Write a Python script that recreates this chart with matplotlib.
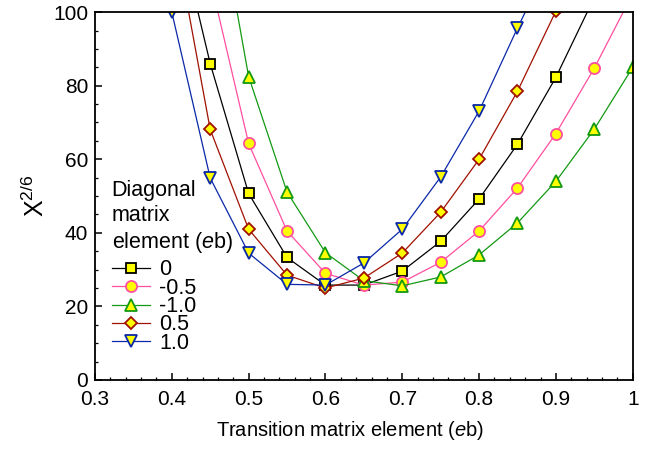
import numpy as np
import matplotlib
matplotlib.use('Agg')
from matplotlib import pyplot as plt
import matplotlib.ticker as ticker

plt.rcParams['font.family'] = ['Liberation Sans', 'DejaVu Sans']
plt.rcParams['mathtext.fontset'] = 'custom'
plt.rcParams['mathtext.rm'] = 'Liberation Sans'
plt.rcParams['mathtext.it'] = 'Liberation Sans:style=italic'

#----------------------------------------------------------------------
# Data (values above 100 are clipped off-chart)
#----------------------------------------------------------------------
x_trans = [0.40, 0.45, 0.50, 0.55, 0.60, 0.65, 0.70, 0.75, 0.80, 0.85, 0.90, 0.95, 1.00]

chi_0     = [130.0, 86.0, 50.7, 33.3, 25.8, 25.8, 29.6, 37.7, 49.2, 64.1, 82.3, 104.0, 128.0]
chi_m05   = [160.0, 109.0, 64.3, 40.5, 29.0, 25.8, 26.6, 32.0, 40.5, 52.2, 67.0, 84.8, 105.0]
chi_m10   = [200.0, 141.0, 82.5, 51.1, 34.6, 27.0, 25.6, 28.0, 34.0, 42.7, 54.0, 68.2, 85.0]
chi_p05   = [125.0, 68.1, 41.0, 28.5, 25.0, 27.7, 34.5, 45.6, 60.0, 78.5, 100.3, 127.0, 155.0]
chi_p10   = [100.0, 54.9, 34.5, 26.0, 25.8, 31.8, 41.0, 55.2, 73.1, 95.7, 117.0, 140.0, 165.0]

labels  = ['0', '-0.5', '-1.0', '0.5', '1.0']
series  = [chi_0, chi_m05, chi_m10, chi_p05, chi_p10]
colors  = ['#000000', '#ff4f9f', '#139913', '#a01000', '#0a28a8']
markers = ['s', 'o', '^', 'D', 'v']
msizes  = [7.0, 8.0, 8.0, 6.0, 8.0]

#----------------------------------------------------------------------
fig = plt.figure(figsize=(6.55, 4.5), dpi=100)
ax = fig.add_axes([0.145, 0.1556, 0.821, 0.8174])

for y, lab, c, m, ms in zip(series, labels, colors, markers, msizes):
    ax.plot(x_trans, y, color=c, lw=0.9, marker=m, markersize=ms,
            markerfacecolor='#ffff00', markeredgecolor=c, markeredgewidth=1.3,
            label=lab)

ax.set_xlim(0.3, 1.0)
ax.set_ylim(0, 100)

ax.xaxis.set_major_locator(ticker.MultipleLocator(0.1))
ax.xaxis.set_minor_locator(ticker.MultipleLocator(0.02))
ax.yaxis.set_major_locator(ticker.MultipleLocator(20))
ax.yaxis.set_minor_locator(ticker.MultipleLocator(5))
ax.xaxis.set_major_formatter(ticker.FuncFormatter(lambda v, p: '%g' % round(v, 2)))

ax.tick_params(which='both', direction='in', top=False, right=False, labelsize=15)
ax.tick_params(which='major', length=5, width=1.1)
ax.tick_params(which='minor', length=2.5, width=0.9)
ax.tick_params(axis='x', pad=7.5)
ax.tick_params(axis='y', pad=5)

for s in ax.spines.values():
    s.set_linewidth(1.3)

ax.set_xlabel(r'Transition matrix element ($e$b)', fontsize=14.5)
ax.xaxis.set_label_coords(0.474, -0.107, transform=ax.transAxes)
ax.xaxis.label.set_va('top')
ax.set_ylabel('\u03a7$^{2/6}$', fontsize=18, labelpad=3)

leg = ax.legend(title='Diagonal\nmatrix\nelement ($e$b)', loc='upper left',
                bbox_to_anchor=(0.031, 0.543), frameon=False, fontsize=15.5,
                title_fontsize=15.5, handlelength=1.8, handletextpad=0.4,
                labelspacing=-0.12, borderpad=0, borderaxespad=0)
leg._legend_box.align = 'left'
leg._legend_box.sep = 3
leg.get_title().set_linespacing(1.23)

plt.savefig('out.png', dpi=100)
